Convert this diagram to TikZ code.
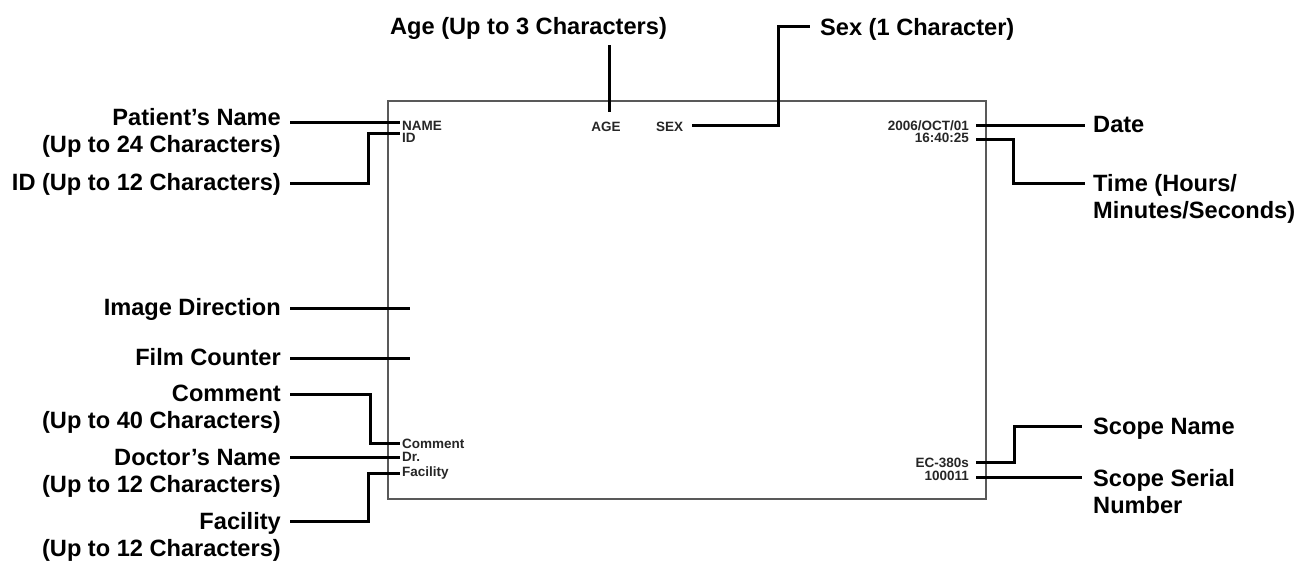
\documentclass[tikz,border=0pt]{standalone}
\usepackage{fontspec}
\setmainfont{Liberation Sans}
\begin{document}
\begin{tikzpicture}[x=1pt,y=-1pt,
  lbl/.style={inner sep=0pt,font=\fontsize{23.6}{27}\selectfont\bfseries,text=black},
  lblL/.style={lbl,align=right,anchor=north east},
  lblR/.style={lbl,align=left,anchor=north west},
  scr/.style={inner sep=0pt,font=\fontsize{13.5}{13.5}\selectfont\bfseries,text=black!85},
  conn/.style={line width=3pt,black,line join=miter},
  frame/.style={draw=black!65,line width=1.1pt}]
\useasboundingbox (0,0) rectangle (1297,560);
% screen frame
\draw[frame] (388,101) rectangle (986,499);
% screen texts
\node[scr,anchor=base west] (name) at (402,130.3) {NAME};
\node[scr,anchor=base west] (id) at (402,142.3) {ID};
\node[scr,anchor=base] (age) at (606,131.5) {AGE};
\node[scr,anchor=base west] (sex) at (656,131.5) {SEX};
\node[scr,anchor=base east] (date) at (969,130.3) {2006/OCT/01};
\node[scr,anchor=base east] (time) at (969,142.3) {16:40:25};
\node[scr,anchor=base west] (comment) at (402,448) {Comment};
\node[scr,anchor=base west] (dr) at (402,461.7) {Dr.};
\node[scr,anchor=base west] (facility) at (402,476.7) {Facility};
\node[scr,anchor=base east] (scope) at (969,467) {EC-380s};
\node[scr,anchor=base east] (serial) at (969,480.7) {100011};
% labels
\node[lblL] (lpn) at (281,108.5) {Patient’s Name\\(Up to 24 Characters)};
\node[lblL] (lid) at (281,173) {ID (Up to 12 Characters)};
\node[lblL] (limg) at (281,298.5) {Image Direction};
\node[lblL] (lfilm) at (281,348.5) {Film Counter};
\node[lblL] (lcom) at (281,385) {Comment\\(Up to 40 Characters)};
\node[lblL] (ldoc) at (281,449) {Doctor’s Name\\(Up to 12 Characters)};
\node[lblL] (lfac) at (281,512) {Facility\\(Up to 12 Characters)};
\node[lblR] (lage) at (390,17.5) {Age (Up to 3 Characters)};
\node[lblR] (lsex) at (820,18.5) {Sex (1 Character)};
\node[lblR] (ldate) at (1093,116.5) {Date};
\node[lblR] (ltime) at (1093,174.5) {Time (Hours/\\Minutes/Seconds)};
\node[lblR] (lscope) at (1093,417.5) {Scope Name};
\node[lblR] (lserial) at (1093,469.5) {Scope Serial\\Number};
% connector end points
\coordinate (cpn) at (290,122);   \coordinate (cpn2) at (400,122);
\coordinate (cid) at (290,183);   \coordinate (cid2) at (400,133);
\coordinate (cage) at (609,45);   \coordinate (cage2) at (609,112);
\coordinate (csex) at (810,26.7); \coordinate (csex2) at (692,125.5);
\coordinate (cdate) at (1085,125);  \coordinate (cdate2) at (976,125);
\coordinate (ctime) at (1085,183.3); \coordinate (ctime2) at (976,139);
\coordinate (cimg) at (290,308);  \coordinate (cimg2) at (410,308);
\coordinate (cfilm) at (290,358.5); \coordinate (cfilm2) at (410,358.5);
\coordinate (ccom) at (290,394);  \coordinate (ccom2) at (400,443);
\coordinate (cdoc) at (290,457.5); \coordinate (cdoc2) at (400,457.5);
\coordinate (cfac) at (290,521);  \coordinate (cfac2) at (400,473);
\coordinate (cscope) at (1082,426); \coordinate (cscope2) at (976,462);
\coordinate (cserial) at (1082,477); \coordinate (cserial2) at (976,477);
% connectors
\draw[conn] (cpn) -- (cpn2);
\draw[conn] (cid) -- (368,183) -- (368,133) -- (cid2);
\draw[conn] (cage) -- (cage2);
\draw[conn] (csex2) -- (778,125.5) -- (778,26.7) -- (csex);
\draw[conn] (cdate2) -- (cdate);
\draw[conn] (ctime2) -- (1013,139) -- (1013,183.3) -- (ctime);
\draw[conn] (cimg) -- (cimg2);
\draw[conn] (cfilm) -- (cfilm2);
\draw[conn] (ccom) -- (370,394) -- (370,443) -- (ccom2);
\draw[conn] (cdoc) -- (cdoc2);
\draw[conn] (cfac) -- (368,521) -- (368,473) -- (cfac2);
\draw[conn] (cscope2) -- (1014,462) -- (1014,426) -- (cscope);
\draw[conn] (cserial2) -- (cserial);
\end{tikzpicture}
\end{document}
